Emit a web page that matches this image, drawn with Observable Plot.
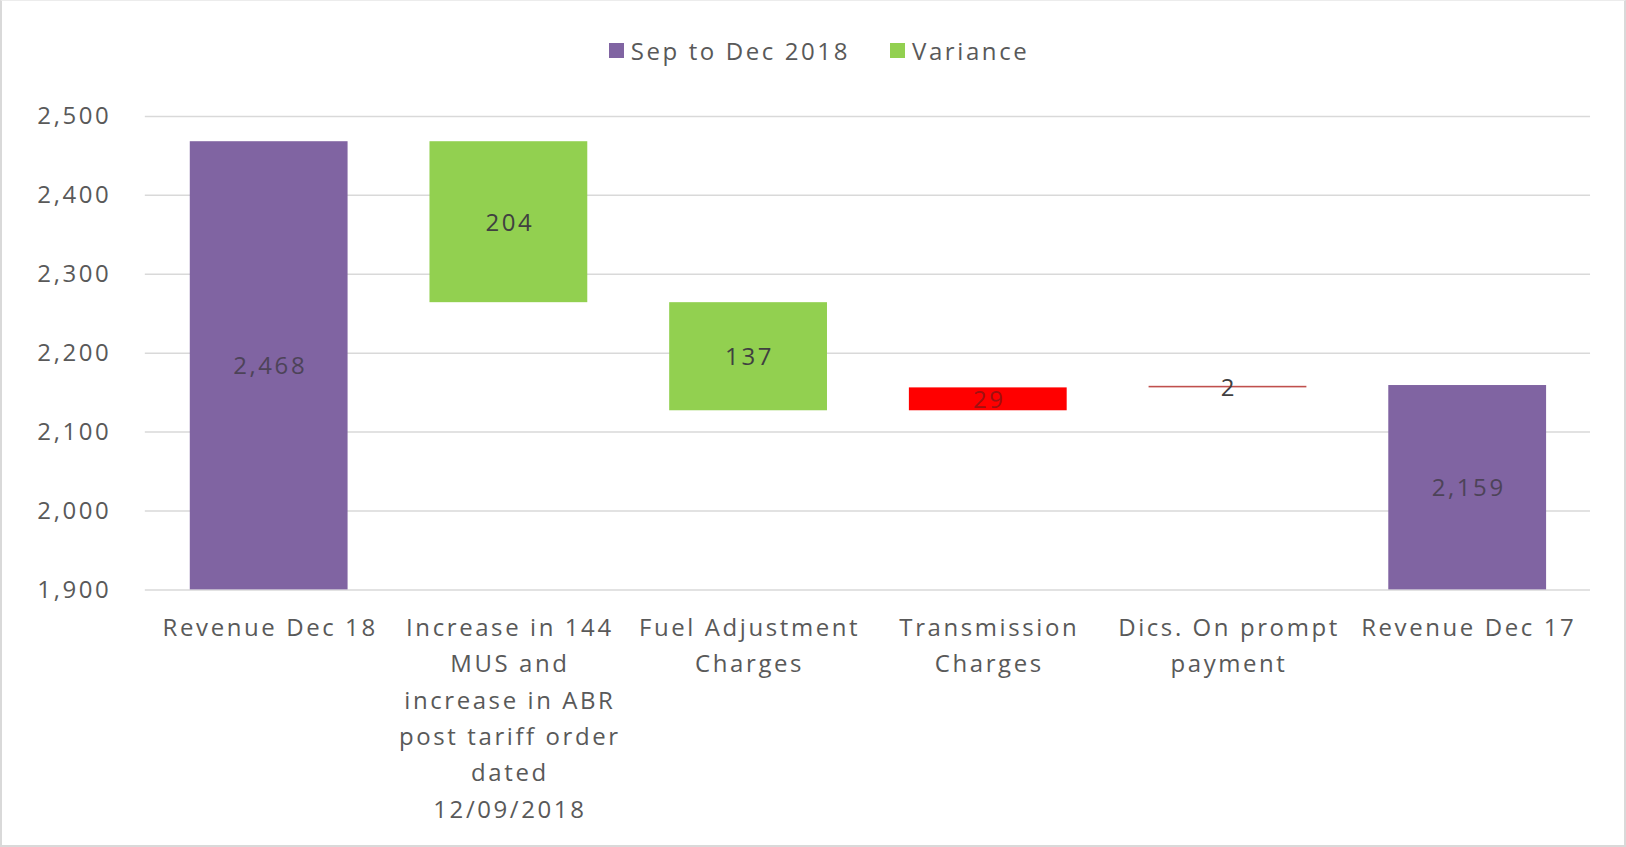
<!DOCTYPE html>
<html>
<head>
<meta charset="utf-8">
<script src="https://cdn.jsdelivr.net/npm/d3@7"></script>
<script src="https://cdn.jsdelivr.net/npm/@observablehq/plot@0.6"></script>
<style>
  html, body { margin: 0; padding: 0; background: #fff; }
  #wrap { position: relative; width: 1626px; height: 847px; box-sizing: border-box; border: 2px solid #d9d9d9; border-top: 1px solid #ececec; overflow: hidden; font-family: "Open Sans", sans-serif; }
  #legend { height: 88px; display: flex; justify-content: center; align-items: center; gap: 40px; font-size: 24px; letter-spacing: 2.6px; color: #595959; padding-left: 12px; box-sizing: border-box; padding-top: 10px; }
  #legend .item { display: flex; align-items: center; gap: 7px; }
  #legend .sw { width: 15px; height: 15px; display: inline-block; }
  #chart { position: absolute; left: -2px; top: 88px; }
  #chart svg text { letter-spacing: 2.6px; }
</style>
</head>
<body>
<div id="wrap">
  <div id="legend"></div>
  <div id="chart"></div>
</div>
<script>
// ---- data ----
const categories = ["Revenue Dec 18", "Increase in 144 MUS", "Fuel Adjustment Charges", "Transmission Charges", "Dics. On prompt payment", "Revenue Dec 17"];
const tickLabels = [
  "Revenue Dec 18",
  "Increase in 144\nMUS and\nincrease in ABR\npost tariff order\ndated\n12/09/2018",
  "Fuel Adjustment\nCharges",
  "Transmission\nCharges",
  "Dics. On prompt\npayment",
  "Revenue Dec 17"
];
const kinds = ["total", "variance", "variance", "variance", "variance", "total"];
// reductions walking from Dec 18 down to Dec 17 (negative = increase)
const values = [2468, 204, 137, -29, -2, 2159];
const valueLabels = ["2,468", "204", "137", "29", "2", "2,159"];
const yTicks = [1900, 2000, 2100, 2200, 2300, 2400, 2500];
const seriesNames = ["Sep to Dec 2018", "Variance"];
const seriesColors = ["#8064A2", "#92D050"];

// ---- build table ----
const base = 1900;
let running = values[0];
const rows = categories.map((c, i) => {
  if (kinds[i] === "total") {
    const r = {cat: c, y1: base, y2: values[i], label: valueLabels[i], fill: seriesColors[0], text: "#4d4358"};
    if (i === 0) running = values[i];
    return r;
  }
  const start = running;
  const end = running - values[i];
  running = end;
  const neg = values[i] < 0;
  return {cat: c, y1: Math.min(start, end), y2: Math.max(start, end), label: valueLabels[i],
          fill: neg ? (Math.abs(values[i]) < 5 ? "#c0504d" : "#FF0000") : seriesColors[1],
          text: neg ? (Math.abs(values[i]) < 5 ? "#404040" : "#a01010") : "#404040"};
});
rows.forEach(r => r.mid = (r.y1 + r.y2) / 2);

// ---- legend ----
const leg = document.getElementById("legend");
seriesNames.forEach((n, i) => {
  const it = document.createElement("span");
  it.className = "item";
  it.innerHTML = `<span class="sw" style="background:${seriesColors[i]}"></span><span>${n}</span>`;
  leg.appendChild(it);
});

// ---- chart ----
const labelMap = new Map(categories.map((c, i) => [c, tickLabels[i]]));
const plot = Plot.plot({
  width: 1626,
  height: 757,
  marginTop: 27,
  marginBottom: 256,
  marginLeft: 145,
  marginRight: 34,
  style: {fontFamily: "Open Sans, sans-serif", fontSize: "24px", color: "#595959", background: "transparent"},
  x: {domain: categories, paddingInner: 0.342, paddingOuter: 0.185, label: null},
  y: {domain: [1900, 2500], label: null},
  marks: [
    Plot.gridY(yTicks, {stroke: "#d9d9d9", strokeOpacity: 1, strokeWidth: 1.5}),
    Plot.rectY(rows, {x: "cat", y1: "y1", y2: "y2", fill: "fill"}),
    Plot.text(rows, {x: "cat", y: "mid", text: "label", fill: "text", fontSize: 24, dy: 1, dx: 1}),
    Plot.axisY(yTicks, {tickSize: 0, tickPadding: 34, tickFormat: d3.format(","), fontSize: 24, fill: "#595959"}),
    Plot.axisX({tickSize: 0, tickPadding: 20, tickFormat: d => labelMap.get(d), fontSize: 24, lineHeight: 1.52, fill: "#595959", dx: 1})
  ]
});
document.getElementById("chart").appendChild(plot);
</script>
</body>
</html>
